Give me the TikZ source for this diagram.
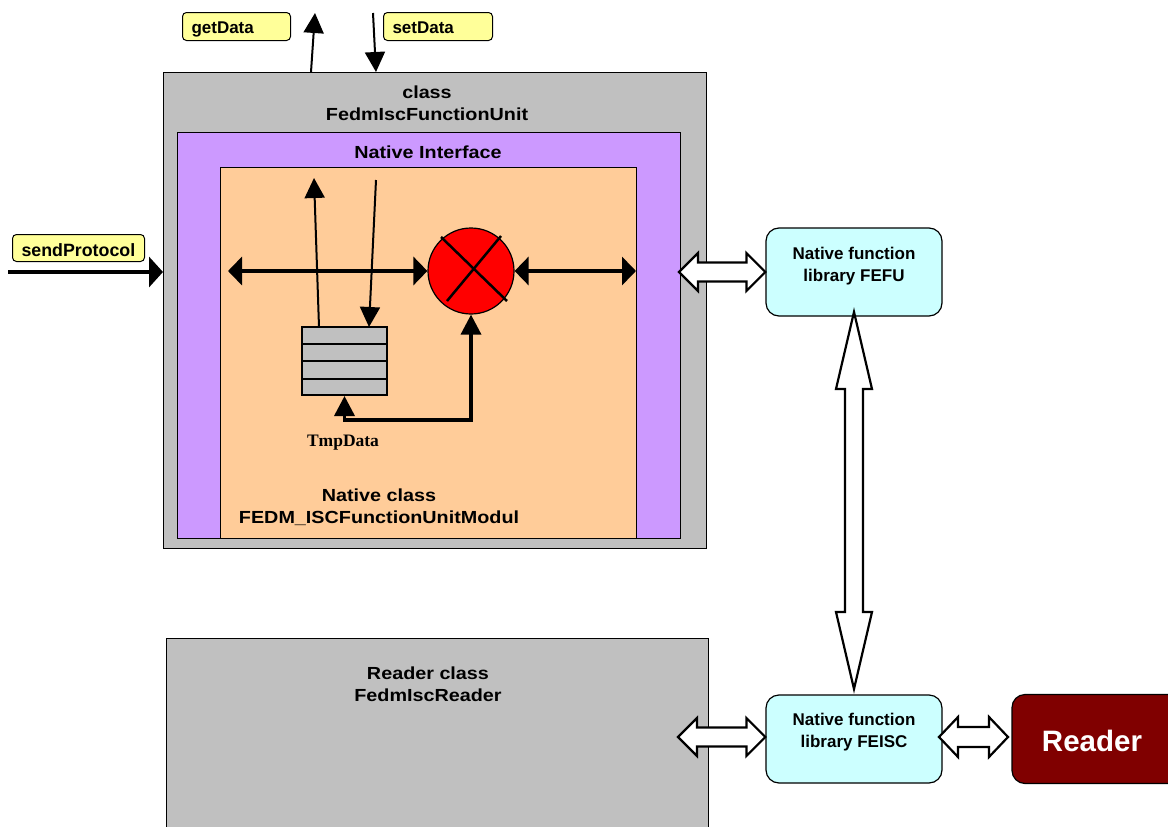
\documentclass[tikz,border=0pt]{standalone}
\usepackage{fontspec}
\setmainfont{Liberation Sans}
\newfontfamily\widesans[FakeStretch=1.13]{Liberation Sans}
\newfontfamily\serifbf{Liberation Serif}
\usetikzlibrary{arrows.meta,calc}
\definecolor{cgray}{HTML}{C0C0C0}
\definecolor{cpurple}{HTML}{CC99FF}
\definecolor{corange}{HTML}{FFCC99}
\definecolor{cyellow}{HTML}{FFFF99}
\definecolor{ccyan}{HTML}{CCFFFF}
\definecolor{cdarkred}{HTML}{800000}
\definecolor{cred}{HTML}{FF0000}
\newcommand\hblockarrow[4]{% from, to, head length, head half
  \draw[blockarrow] let \p1=(#1), \p2=(#2) in
   (\x1,\y1) -- ({\x1+#3},{\y1+#4}) -- ({\x1+#3},{\y1+0.5*#4}) -- ({\x2-#3},{\y1+0.5*#4})
   -- ({\x2-#3},{\y1+#4}) -- (\x2,\y1) -- ({\x2-#3},{\y1-#4}) -- ({\x2-#3},{\y1-0.5*#4})
   -- ({\x1+#3},{\y1-0.5*#4}) -- ({\x1+#3},{\y1-#4}) -- cycle;}
\newcommand\vblockarrow[4]{% from (top), to (bottom), head length, head half
  \draw[blockarrow] let \p1=(#1), \p2=(#2) in
   (\x1,\y1) -- ({\x1+#4},{\y1-#3}) -- ({\x1+0.5*#4},{\y1-#3}) -- ({\x1+0.5*#4},{\y2+#3})
   -- ({\x1+#4},{\y2+#3}) -- (\x1,\y2) -- ({\x1-#4},{\y2+#3}) -- ({\x1-0.5*#4},{\y2+#3})
   -- ({\x1-0.5*#4},{\y1-#3}) -- ({\x1-#4},{\y1-#3}) -- cycle;}
\begin{document}
\begin{tikzpicture}[x=1pt,y=-1pt,line join=miter,
  box/.style={draw, line width=1.2pt, inner sep=0pt, anchor=north west},
  lbl/.style={font=\widesans\bfseries\fontsize{17.5}{22}\selectfont, align=center},
  liblbl/.style={font=\bfseries\fontsize{17}{22}\selectfont, align=center},
  ybox/.style={draw, fill=cyellow, rounded corners=4pt, line width=1pt, anchor=north west,
    font=\bfseries\fontsize{17}{18}\selectfont, inner xsep=9pt, inner ysep=0pt, align=left,
    minimum height=28pt, text height=15pt, text depth=1pt},
  libbox/.style={draw, fill=ccyan, rounded corners=13pt, line width=1.2pt, minimum width=176pt, minimum height=88pt, inner sep=0pt},
  blockarrow/.style={draw, fill=white, line width=2.2pt, line join=miter},
  arr/.style={line width=2pt, -{Triangle[length=20pt,width=20pt]}},
  harr/.style={line width=3.5pt, {Triangle[length=14pt,width=28pt]}-{Triangle[length=14pt,width=28pt]}},
  fb/.style={line width=3.5pt, {Triangle[length=20pt,width=20pt]}-{Triangle[length=20pt,width=20pt]}},
  qline/.style={line width=2pt}
]
\clip (0,0) rectangle (1168,827);
\fill[white] (0,0) rectangle (1168,827);

% main boxes
\node[box, fill=cgray, minimum width=543pt, minimum height=476pt] (fu) at (163,72) {};
\node[box, fill=cpurple, minimum width=503pt, minimum height=406pt] (ni) at (177,132) {};
\node[box, fill=corange, minimum width=416pt, minimum height=371pt] (mod) at (220,167) {};
\node[lbl] at (427,103) {class\\FedmIscFunctionUnit};
\node[lbl] at (428,152) {Native Interface};
\node[lbl] at (379,507) {Native class\\FEDM\_ISCFunctionUnitModul};

\node[box, fill=cgray, minimum width=542pt, minimum height=200pt] (rc) at (166,638) {};
\node[lbl] at (428,684) {Reader class\\FedmIscReader};

% yellow labels
\node[ybox, text width=90pt] (gd) at (182,12) {getData};
\node[ybox, text width=91pt] (sd) at (383,12) {setData};
\node[ybox, text width=114pt, font=\bfseries\fontsize{17.8}{18}\selectfont,
  minimum height=27pt, text height=17pt, text depth=0pt] (sp) at (12,234) {sendProtocol};

\coordinate (gdb) at (311,72);
\coordinate (gdt) at (315,13);
\coordinate (sdt) at (373,13);
\coordinate (sdb) at (376,72);
\draw[arr] (gdb) -- (gdt);
\draw[arr] (sdt) -- (sdb);
\coordinate (sps) at (8,272);
\draw[line width=4pt, -{Triangle[length=14pt,width=30pt]}] (sps) -- (fu.west |- sps);

% library boxes
\node[libbox] (fefu) at (854,272) {};
\node[liblbl] at (854,266) {Native function\\library FEFU};
\node[libbox] (feisc) at (854,739) {};
\node[liblbl] at (854,732) {Native function\\library FEISC};
\node[draw, fill=cdarkred, rounded corners=13pt, line width=1.2pt, minimum width=176pt, minimum height=89pt, inner sep=0pt] (reader) at (1100,739) {};
\node[font=\bfseries\fontsize{29.5}{30}\selectfont, text=white] at (1092,741) {Reader};

% block arrows
\coordinate (h1) at (679,272);
\hblockarrow{h1}{fefu.west}{19pt}{19pt}
\coordinate (h2) at (678,737);
\hblockarrow{h2}{feisc.west}{19pt}{19pt}
\coordinate (h3) at (939,737);
\coordinate (h4) at (1008,737);
\hblockarrow{h3}{h4}{19pt}{20pt}
\coordinate (v1) at (854,312);
\coordinate (v2) at (854,689);
\vblockarrow{v1}{v2}{77pt}{18pt}

% inner module
\node[draw, fill=cred, circle, minimum size=86pt, line width=1.2pt, inner sep=0pt] (circ) at (471,271) {};
\draw[line width=2.5pt] ($(circ.center)+(30,-35)$) -- ($(circ.center)+(-24,30)$);
\draw[line width=2.5pt] ($(circ.center)+(-30,-34)$) -- ($(circ.center)+(36,30)$);
\coordinate (la) at (228,271);
\coordinate (ra) at (636,271);
\draw[harr] (la) -- (circ.west);
\draw[harr] (circ.east) -- (ra);

\node[draw, fill=cgray, line width=2pt, minimum width=85pt, minimum height=68pt, inner sep=0pt] (q) at (344.5,361) {};
\draw[qline] ($(q.north west)!0.25!(q.south west)$) -- ($(q.north east)!0.25!(q.south east)$);
\draw[qline] ($(q.north west)!0.5!(q.south west)$) -- ($(q.north east)!0.5!(q.south east)$);
\draw[qline] ($(q.north west)!0.75!(q.south west)$) -- ($(q.north east)!0.75!(q.south east)$);
\coordinate (qu) at (319,327);
\coordinate (qut) at (314,178);
\coordinate (qdt) at (376,180);
\coordinate (qd) at (369,327);
\draw[arr] (qu) -- (qut);
\draw[arr] (qdt) -- (qd);
\coordinate (fbc) at (400,420);
\draw[fb] (q.south) |- (fbc) -| (circ.south);
\node[font=\serifbf\bfseries\fontsize{17.5}{18}\selectfont] at (343,443) {TmpData};
\end{tikzpicture}
\end{document}
